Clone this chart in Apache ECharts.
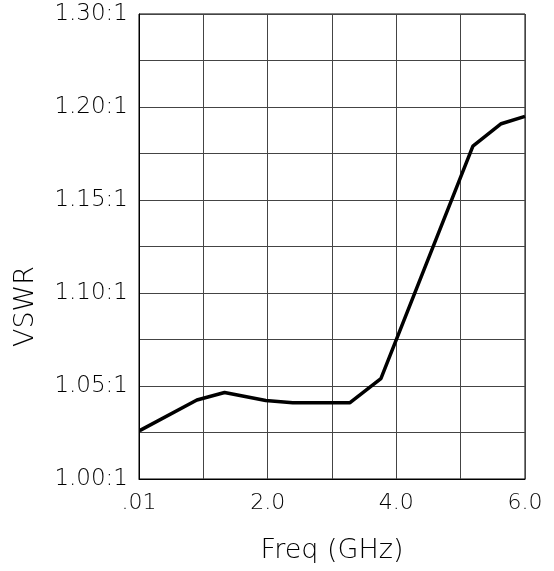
<!DOCTYPE html>
<html>
<head>
<meta charset="utf-8">
<script src="https://cdn.jsdelivr.net/npm/echarts@6/dist/echarts.min.js"></script>
<style>
html,body{margin:0;padding:0;background:#fff;}
#chart{width:554px;height:571px;}
</style>
</head>
<body>
<div id="chart"></div>
<script>
var freqGHz = [0.01, 0.9, 1.33, 1.97, 2.39, 3.28, 3.76, 5.19, 5.63, 6.0];
var vswr = [1.026, 1.0425, 1.0465, 1.0422, 1.041, 1.041, 1.054, 1.179, 1.191, 1.195];
var xTickValues = [0, 2, 4, 6];
var xTickLabels = ['.01', '2.0', '4.0', '6.0'];
var yTickValues = [1.00, 1.05, 1.10, 1.15, 1.20, 1.25];
var yTickLabels = ['1.00:1', '1.05:1', '1.10:1', '1.15:1', '1.20:1', '1.30:1'];

var FONT = 'DejaVu Sans';
var W = 200;
function lookup(vals, labels, v) {
  for (var i = 0; i < vals.length; i++) {
    if (Math.abs(vals[i] - v) < 1e-6) return labels[i];
  }
  return '';
}
var chart = echarts.init(document.getElementById('chart'), null, {renderer: 'canvas'});
chart.setOption({
  animation: false,
  backgroundColor: '#fff',
  grid: {left: 139, right: 29, top: 14, bottom: 92, show: true, borderColor: '#000', borderWidth: 1},
  xAxis: {
    type: 'value', min: 0, max: 6, interval: 1,
    name: 'Freq (GHz)', nameLocation: 'middle', nameGap: 58,
    nameTextStyle: {fontFamily: FONT, fontWeight: W, fontSize: 27, color: '#000'},
    axisLine: {show: true, lineStyle: {color: '#000', width: 1}},
    axisTick: {show: false},
    axisLabel: {
      margin: 13, fontFamily: FONT, fontWeight: W, fontSize: 22, color: '#000',
      showMinLabel: true, showMaxLabel: true,
      formatter: function (v) { return lookup(xTickValues, xTickLabels, v); }
    },
    splitLine: {show: true, lineStyle: {color: '#444', width: 1}}
  },
  yAxis: {
    type: 'value', min: 1.0, max: 1.25, interval: 0.025,
    axisLine: {show: true, lineStyle: {color: '#000', width: 1}},
    axisTick: {show: false},
    axisLabel: {
      margin: 11, fontFamily: FONT, fontWeight: W, fontSize: 23, color: '#000',
      showMinLabel: true, showMaxLabel: true,
      formatter: function (v) { return lookup(yTickValues, yTickLabels, v); }
    },
    splitLine: {show: true, lineStyle: {color: '#444', width: 1}}
  },
  graphic: [{
    type: 'text', left: 12, top: 266, rotation: Math.PI / 2,
    style: {text: 'VSWR', fontFamily: FONT, fontWeight: W, fontSize: 27, fill: '#000'}
  }],
  series: [{
    type: 'line',
    data: freqGHz.map(function (f, i) { return [f, vswr[i]]; }),
    showSymbol: false, symbol: 'none', smooth: false,
    lineStyle: {color: '#000', width: 3.5}
  }]
});
</script>
</body>
</html>
